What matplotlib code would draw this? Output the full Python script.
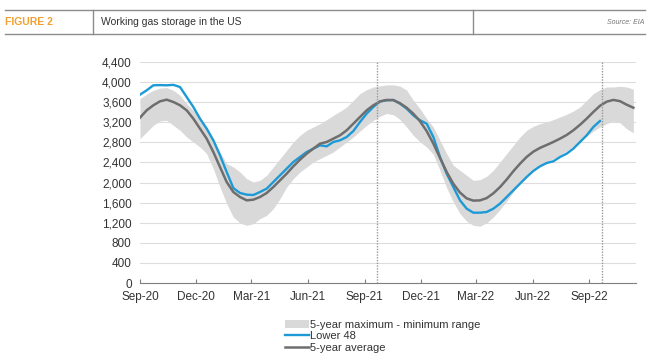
import matplotlib
matplotlib.use("Agg")
import matplotlib.pyplot as plt
from matplotlib.lines import Line2D
import pandas as pd

plt.rcParams['font.family'] = ['Liberation Sans', 'DejaVu Sans']

# readings every 260 h (~10.8 days) starting 1 Sep 2020
start = '2020-09-01'
step = '260h'

lower48 = [3750, 3836, 3936, 3940, 3936, 3945, 3902, 3703, 3504, 3272,
           3073, 2841, 2542, 2210, 1890, 1792, 1759, 1752, 1812, 1878,
           2011, 2144, 2276, 2409, 2509, 2608, 2675, 2741, 2721, 2807,
           2841, 2907, 3026, 3206, 3372, 3504,
           3615, 3637, 3645, 3570, 3471, 3338, 3239, 3172, 2907, 2509,
           2177, 1911, 1646, 1480, 1400, 1400, 1414, 1480, 1580, 1712,
           1845, 1978, 2111, 2230, 2323, 2389, 2423, 2509, 2575, 2675,
           2807, 2940, 3106, 3226]

avg5 = [3292, 3438, 3538, 3617, 3650, 3604, 3538, 3438, 3272, 3073,
        2874, 2608, 2310, 2011, 1812, 1712, 1646, 1659, 1712, 1792,
        1911, 2044, 2177, 2323, 2456, 2575, 2675, 2774, 2807, 2874,
        2940, 3040, 3172, 3305, 3438, 3538,
        3615, 3645, 3640, 3580, 3490, 3370, 3220, 3025, 2775, 2490,
        2210, 1975, 1800, 1685, 1640, 1645, 1690, 1785, 1910, 2060,
        2225, 2375, 2510, 2615, 2690, 2748, 2808, 2874, 2947, 3040,
        3150, 3272, 3405, 3528, 3610, 3645, 3620, 3550, 3490]

max5 = [3670, 3760, 3836, 3880, 3890, 3836, 3737, 3570, 3438, 3272,
        3106, 2874, 2608, 2376, 2310, 2210, 2077, 2011, 2044, 2144,
        2310, 2476, 2641, 2807, 2940, 3040, 3106, 3172, 3252, 3338,
        3418, 3504, 3637, 3770, 3849, 3902,
        3925, 3945, 3945, 3920, 3840, 3637, 3471, 3272, 3106, 2841,
        2575, 2343, 2243, 2144, 2044, 2058, 2124, 2243, 2409, 2575,
        2741, 2907, 3040, 3119, 3172, 3206, 3252, 3305, 3358, 3424,
        3504, 3637, 3770, 3849, 3902, 3902, 3916, 3902, 3860]

min5 = [2874, 3006, 3139, 3226, 3239, 3139, 3040, 2907, 2807, 2708,
        2575, 2276, 1911, 1580, 1314, 1195, 1148, 1181, 1281, 1347,
        1480, 1679, 1911, 2077, 2210, 2310, 2409, 2476, 2542, 2608,
        2708, 2807, 2907, 3026, 3139, 3239,
        3320, 3375, 3350, 3255, 3105, 2940, 2808, 2708, 2560, 2243,
        1895, 1613, 1380, 1231, 1148, 1131, 1198, 1314, 1463, 1629,
        1811, 1994, 2143, 2260, 2343, 2409, 2476, 2548, 2631, 2724,
        2824, 2923, 3023, 3106, 3172, 3222, 3190, 3070, 2990]

tick_dates = ['2020-09-01', '2020-12-01', '2021-03-01', '2021-06-01', '2021-09-01',
              '2021-12-01', '2022-03-01', '2022-06-01', '2022-09-01']
tick_labels = ['Sep-20', 'Dec-20', 'Mar-21', 'Jun-21', 'Sep-21',
               'Dec-21', 'Mar-22', 'Jun-22', 'Sep-22']
marker_dates = ['2021-09-21', '2022-09-21']

dates = pd.date_range(start, periods=len(avg5), freq=step)
dates_l48 = dates[:len(lower48)]

fig = plt.figure(figsize=(6.5, 3.62), dpi=100)

# header
fig.add_artist(Line2D([5/650, 645/650], [1-9.5/362]*2, color='#8c8c8c', lw=1))
fig.add_artist(Line2D([5/650, 645/650], [1-34/362]*2, color='#8c8c8c', lw=1))
fig.add_artist(Line2D([93/650]*2, [1-10/362, 1-34/362], color='#8c8c8c', lw=1))
fig.add_artist(Line2D([473/650]*2, [1-10/362, 1-34/362], color='#8c8c8c', lw=1))
fig.text(5/650, 1-22/362, 'FIGURE 2', color='#f0a030', fontsize=7.5, fontweight='bold',
         va='center', family=['Liberation Sans Narrow', 'Liberation Sans'])
fig.text(101/650, 1-22/362, 'Working gas storage in the US', color='#333333', fontsize=7.5,
         va='center', family=['Liberation Sans Narrow', 'Liberation Sans'])
fig.text(644/650, 1-22/362, 'Source: EIA', color='#777777', fontsize=5, style='italic',
         va='center', ha='right', family=['Liberation Sans Narrow', 'Liberation Sans'])

ax = fig.add_axes([140/650, 1-283/362, 496/650, 221/362])

band = ax.fill_between(dates, min5, max5, color='#d9d9d9', lw=0,
                       label='5-year maximum - minimum range')
l1, = ax.plot(dates_l48, lower48, color='#1d9ad6', lw=1.7, label='Lower 48')
l2, = ax.plot(dates, avg5, color='#6e6e6e', lw=1.8, label='5-year average')

for d in marker_dates:
    ax.axvline(pd.Timestamp(d), color='#9a9a9a', lw=1, ls=(0, (1, 1)), zorder=3)

ax.set_ylim(0, 4400)
ax.set_yticks(range(0, 4401, 400))
ax.set_yticklabels([f'{v:,}' for v in range(0, 4401, 400)])
ax.set_xlim(pd.Timestamp('2020-09-01'), pd.Timestamp('2022-11-16'))
ax.set_xticks([pd.Timestamp(d) for d in tick_dates])
ax.set_xticklabels(tick_labels)
ax.grid(axis='y', color='#dddddd', lw=0.8)
ax.set_axisbelow(True)
for s in ['top', 'right', 'left']:
    ax.spines[s].set_visible(False)
ax.spines['bottom'].set_color('#7f7f7f')
ax.tick_params(axis='y', length=0, pad=6, labelsize=8.5, labelcolor='#333333')
ax.tick_params(axis='x', direction='in', length=3, color='#7f7f7f', pad=6,
               labelsize=8.5, labelcolor='#333333')

fig.legend(handles=[band, l1, l2], loc='upper left',
           bbox_to_anchor=(279/650, 1-314/362), frameon=False, fontsize=8,
           handlelength=2.2, handletextpad=0.1, labelspacing=0.15,
           borderpad=0, labelcolor='#333333')

fig.savefig('out.png', dpi=100)
